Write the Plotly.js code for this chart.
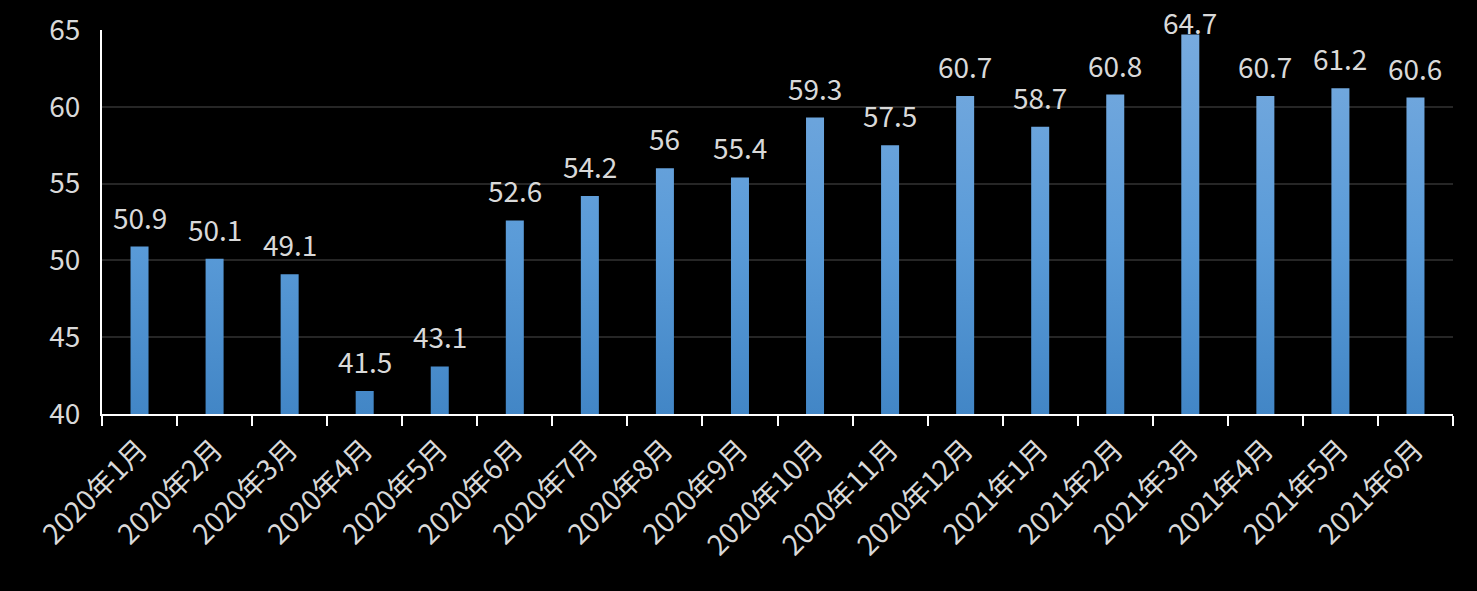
<!DOCTYPE html>
<html><head><meta charset="utf-8">
<script src="https://cdn.plot.ly/plotly-3.0.1.min.js"></script>
<style>html,body{margin:0;padding:0;background:#000;}#chart{width:1477px;height:591px;}</style>
</head><body><div id="chart"></div>
<script>
const categories = ["2020年1月","2020年2月","2020年3月","2020年4月","2020年5月","2020年6月","2020年7月","2020年8月","2020年9月","2020年10月","2020年11月","2020年12月","2021年1月","2021年2月","2021年3月","2021年4月","2021年5月","2021年6月"];
const values = [50.9,50.1,49.1,41.5,43.1,52.6,54.2,56,55.4,59.3,57.5,60.7,58.7,60.8,64.7,60.7,61.2,60.6];
const yTicks = [40,45,50,55,60,65];

const M = {l:102, r:24, t:30, b:177};
const H = 591, yMin = 40, yMax = 65;
const plotH = H - M.t - M.b;
const txt = '#d9d9d9';
const font = '"Noto Sans CJK SC", "Noto Sans", sans-serif';

const annotations = categories.map((c,i)=>{
  const py = M.t + (yMax - values[i])/(yMax-yMin)*plotH;
  const shift = Math.min(30, py - 22);
  return {x:c, y:values[i], xref:'x', yref:'y', text:String(values[i]), showarrow:false,
    yanchor:'middle', yshift:shift, font:{family:font, size:28, color:txt}};
});

Plotly.newPlot('chart', [{
  type:'bar', x:categories, y:values, width:0.24,
  marker:{color:'#5b9bd5', line:{width:0}}, hoverinfo:'skip'
}], {
  width:1477, height:591, margin:M,
  paper_bgcolor:'#000', plot_bgcolor:'#000', showlegend:false,
  font:{family:font, color:txt},
  xaxis:{type:'category', tickangle:-45, tickson:'boundaries', ticks:'outside', ticklen:10, tickwidth:2, tickcolor:'#fff',
    showline:true, linecolor:'#fff', linewidth:2, showgrid:false, ticklabelstandoff:6,
    tickfont:{family:font, size:28, color:txt}},
  yaxis:{range:[yMin,yMax], tickvals:yTicks, showline:true, linecolor:'#fff', linewidth:2, ticks:'',
    showgrid:true, gridcolor:'#262626', gridwidth:2, zeroline:false, ticklabelstandoff:14,
    tickfont:{family:font, size:28, color:txt}},
  annotations:annotations
}, {displayModeBar:false, staticPlot:true}).then(gd=>{
  const svg = gd.querySelector('svg.main-svg');
  const ns = 'http://www.w3.org/2000/svg';
  let defs = svg.querySelector('defs');
  if(!defs){defs = document.createElementNS(ns,'defs'); svg.insertBefore(defs, svg.firstChild);}
  const g = document.createElementNS(ns,'linearGradient');
  g.setAttribute('id','barGrad');
  g.setAttribute('gradientUnits','userSpaceOnUse');
  g.setAttribute('x1','0'); g.setAttribute('x2','0');
  g.setAttribute('y1','0'); g.setAttribute('y2', String(plotH));
  [['0','#78abdf'],['0.55','#5a9bd8'],['1','#4286c6']].forEach(([o,c])=>{
    const s=document.createElementNS(ns,'stop'); s.setAttribute('offset',o); s.setAttribute('stop-color',c); g.appendChild(s);
  });
  defs.appendChild(g);
  gd.querySelectorAll('.barlayer .point path').forEach(p=>{ p.style.fill='url(#barGrad)'; });
});
</script></body></html>
